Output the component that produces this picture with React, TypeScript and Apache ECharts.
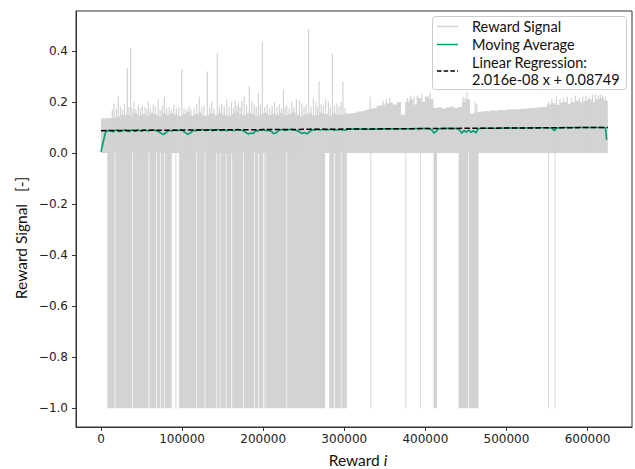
import React, { useEffect, useRef } from "react";
import * as echarts from "echarts";

// ---------- data ----------
const xTicks = [0, 100000, 200000, 300000, 400000, 500000, 600000];
const yTicks = [-1.0, -0.8, -0.6, -0.4, -0.2, 0.0, 0.2, 0.4];

// width of one step of the dense positive reward band (reward index units)
const bandStep = 5000;
// top of the dense positive reward band, one value per step starting at i = 0
const signalBandTop = [
  0.135, 0.137, 0.138, 0.14, 0.143, 0.15,
  0.15, 0.145, 0.155, 0.148, 0.152, 0.145, 0.158, 0.15, 0.144, 0.155,
  0.148, 0.156, 0.15, 0.145, 0.153, 0.16, 0.147, 0.152, 0.158, 0.146,
  0.151, 0.155, 0.148, 0.157, 0.15, 0.145, 0.154, 0.16, 0.15, 0.147,
  0.156, 0.153, 0.145, 0.15, 0.158, 0.148, 0.154, 0.15, 0.157, 0.147,
  0.153, 0.16, 0.15, 0.144, 0.152, 0.157, 0.148, 0.15, 0.158, 0.153,
  0.146, 0.155, 0.15, 0.152,
  0.155, 0.157, 0.158, 0.162, 0.164, 0.168,
  0.172, 0.176, 0.184, 0.188, 0.194, 0.198,
  0.19, 0.2, 0.15,
  0.2, 0.21, 0.19, 0.215, 0.2, 0.22, 0.21,
  0.176, 0.179, 0.174, 0.178, 0.181, 0.176, 0.18,
  0.2, 0.21,
  0.155, 0.16,
  0.162, 0.164, 0.163, 0.166, 0.165, 0.168, 0.167, 0.17, 0.171, 0.17,
  0.173, 0.174, 0.176, 0.175, 0.178, 0.18, 0.181,
  0.19, 0.195, 0.188, 0.197, 0.2, 0.193, 0.2, 0.205, 0.198, 0.205,
  0.21, 0.2, 0.21, 0.215, 0.205,
];

// isolated high rewards above the band: [i, reward]
const signalSpikes: [number, number][] = [
  [14000, 0.17], [16000, 0.195], [19000, 0.175], [21300, 0.223], [24000, 0.18],
  [26500, 0.17], [29000, 0.19], [32500, 0.332], [34500, 0.18], [36600, 0.41],
  [38500, 0.175], [40700, 0.2], [43000, 0.17], [46000, 0.19], [48500, 0.175],
  [51000, 0.185], [54300, 0.18], [56500, 0.17], [58400, 0.2], [61000, 0.175],
  [64500, 0.19], [67000, 0.18], [70700, 0.21], [73000, 0.17], [75500, 0.185],
  [78100, 0.22], [81000, 0.175], [84000, 0.18], [87000, 0.17], [90000, 0.19],
  [93000, 0.175], [96000, 0.18], [99600, 0.328], [102500, 0.175], [105800, 0.17],
  [108500, 0.18], [111000, 0.17], [114800, 0.175], [118000, 0.19], [121300, 0.22],
  [124000, 0.18], [127000, 0.185], [131200, 0.319], [134000, 0.18], [136600, 0.2],
  [139500, 0.175], [143500, 0.393], [146000, 0.18], [148900, 0.19], [152000, 0.185],
  [155100, 0.21], [158000, 0.18], [161000, 0.2], [163500, 0.175], [165400, 0.205],
  [167500, 0.185], [169400, 0.2], [171500, 0.18], [173600, 0.205], [176500, 0.22],
  [179500, 0.185], [183000, 0.262], [186000, 0.205], [189000, 0.19], [191500, 0.18],
  [194100, 0.235], [196500, 0.19], [199000, 0.436], [202000, 0.18], [205000, 0.19],
  [208000, 0.175], [211000, 0.185], [214000, 0.2], [217000, 0.18], [220000, 0.19],
  [222500, 0.175], [225000, 0.247], [227000, 0.18], [229200, 0.186], [232000, 0.175],
  [235300, 0.2], [238000, 0.18], [241000, 0.21], [244700, 0.206], [247700, 0.195],
  [250500, 0.18], [253000, 0.19], [256000, 0.485], [259000, 0.18], [262000, 0.213],
  [265000, 0.2], [267000, 0.18], [269000, 0.28], [271500, 0.19], [274300, 0.186],
  [277000, 0.21], [280500, 0.2], [283000, 0.18], [285400, 0.388], [288000, 0.185],
  [290900, 0.195], [293500, 0.18], [296000, 0.2], [298300, 0.28], [301000, 0.175],
  [332000, 0.22], [348000, 0.205], [352000, 0.21], [356000, 0.215], [378000, 0.215],
  [382000, 0.225], [386000, 0.22], [390000, 0.225], [395700, 0.23], [400000, 0.22],
  [403000, 0.225], [406000, 0.236], [446500, 0.22], [449000, 0.215], [451300, 0.24],
  [461500, 0.2], [463500, 0.19], [552000, 0.2], [556000, 0.21], [561500, 0.22],
  [566000, 0.21], [570000, 0.215], [575000, 0.22], [580000, 0.215], [585000, 0.225],
  [590000, 0.215], [594000, 0.22], [598000, 0.225], [602000, 0.22], [606000, 0.23],
  [609600, 0.23], [613000, 0.225], [615800, 0.23], [619000, 0.225], [622000, 0.22],
];

// stretches of reward index where the reward repeatedly drops to -1: [from, to]
const signalDrops: [number, number][] = [
  [7800, 16900], [17700, 38700], [39500, 58800], [59700, 68300], [69100, 73300],
  [74100, 77700], [78500, 87300], [91800, 92700], [96300, 117700], [118500, 127900],
  [128700, 142400], [143200, 146400], [147200, 153900], [154700, 160900], [161700, 175200],
  [176000, 188800], [189600, 193700], [194500, 199900], [200700, 202000], [202800, 228800],
  [229600, 276400], [281400, 287500], [288300, 295800], [296600, 303200], [332200, 333000],
  [375400, 376200], [393200, 394000], [410000, 414300], [440900, 452800], [453600, 465600],
  [551200, 552000], [559200, 560000],
];

const movingAverage: [number, number][] = [
  [0, 0.005], [6000, 0.087], [8000, 0.084], [10000, 0.089], [12500, 0.086], [15000, 0.083],
  [17500, 0.088], [20000, 0.09], [22500, 0.084], [25000, 0.085], [27500, 0.089],
  [30000, 0.09], [32500, 0.086], [35000, 0.084], [37500, 0.09], [40000, 0.089], [42500, 0.085],
  [45000, 0.091], [47500, 0.088], [50000, 0.086], [52500, 0.09], [55000, 0.09], [57500, 0.086],
  [60000, 0.088], [62500, 0.09], [65000, 0.091], [67500, 0.087], [70000, 0.086], [74000, 0.078],
  [77000, 0.072], [80000, 0.08], [84000, 0.089], [87000, 0.086], [90000, 0.091], [92500, 0.088],
  [95000, 0.088], [97500, 0.091], [100000, 0.09], [104000, 0.08], [107000, 0.073],
  [110000, 0.078], [114000, 0.089], [117000, 0.087], [120000, 0.091], [122500, 0.089], [125000, 0.092],
  [127500, 0.089], [130000, 0.088], [132500, 0.091], [135000, 0.091], [137500, 0.087],
  [140000, 0.09], [142500, 0.091], [145000, 0.092], [147500, 0.088], [150000, 0.09], [152500, 0.091],
  [155000, 0.087], [157500, 0.09], [160000, 0.091], [162500, 0.087], [165000, 0.089], [167500, 0.092],
  [170000, 0.092], [172500, 0.089], [175000, 0.088], [179000, 0.08], [182000, 0.074], [185000, 0.078],
  [188000, 0.076], [191000, 0.088], [193000, 0.085], [195000, 0.091], [197500, 0.089], [200000, 0.092],
  [202500, 0.088], [205000, 0.089], [210000, 0.085], [213000, 0.076],
  [216000, 0.079], [219000, 0.088], [221500, 0.091], [224000, 0.092], [227000, 0.088], [230000, 0.09],
  [232500, 0.092], [235000, 0.093], [237500, 0.09], [240000, 0.089],
  [245000, 0.082], [248000, 0.076], [251000, 0.08], [254000, 0.075], [257000, 0.083], [261000, 0.091],
  [263500, 0.089], [266000, 0.093], [270000, 0.09], [275000, 0.093], [277500, 0.09], [280000, 0.091],
  [285000, 0.093], [287500, 0.089], [290000, 0.09],
  [295000, 0.092], [300000, 0.089], [305000, 0.093], [310000, 0.094], [320000, 0.094], [330000, 0.093],
  [340000, 0.094], [350000, 0.095], [360000, 0.094], [370000, 0.095], [380000, 0.095], [390000, 0.096],
  [400000, 0.096], [405000, 0.095], [408000, 0.09], [410500, 0.078], [413000, 0.083], [416000, 0.095],
  [420000, 0.096], [430000, 0.097], [440000, 0.096], [443000, 0.086], [445000, 0.077], [447500, 0.088],
  [450500, 0.082], [453500, 0.09], [456500, 0.081], [459500, 0.087], [462500, 0.079], [465000, 0.095],
  [470000, 0.097], [480000, 0.097], [490000, 0.097], [500000, 0.098], [510000, 0.098], [520000, 0.098],
  [530000, 0.099], [540000, 0.099], [550000, 0.099], [556000, 0.098], [559000, 0.087], [562000, 0.098],
  [570000, 0.1], [580000, 0.1], [590000, 0.1], [600000, 0.1], [610000, 0.1], [620000, 0.1],
  [622000, 0.099], [623500, 0.052],
];

const regressionLine: [number, number][] = [[0, 0.08749], [625000, 0.10009]];
const regressionTitle = "Linear Regression:";
const regressionLabel = "2.016e-08 x + 0.08749";

// ---------- chart ----------
const GRAY = "#d3d3d3";
const GREEN = "#009e73";
const AXIS = "#333333";
const TICK_FONT = "DejaVu Sans";
const TITLE_FONT = "Lato";
const LEGEND_FONT = "Lato";

function txt(text: string, x: number, y: number, size: number, family: string, extra: any = {}) {
  return {
    type: "text",
    z: 101,
    x,
    y,
    ...(extra.rotation !== undefined ? { rotation: extra.rotation } : {}),
    style: {
      text,
      font: `${size}px "${family}"`,
      fontSize: size,
      fontFamily: family,
      fill: "#111",
      align: extra.align || "left",
      verticalAlign: "middle",
      ...(extra.rich ? { rich: extra.rich } : {}),
    },
  };
}

export default function App() {
  const ref = useRef<HTMLDivElement>(null);

  useEffect(() => {
    if (!ref.current) return;
    const chart = echarts.init(ref.current, null, { renderer: "svg" });

    const bandData: [number, number][] = signalBandTop.map((v, i) => [i * bandStep, v]);
    bandData.push([signalBandTop.length * bandStep, signalBandTop[signalBandTop.length - 1]]);

    const option: any = {
      animation: false,
      backgroundColor: "#ffffff",
      grid: {
        left: 76,
        right: 3,
        top: 11,
        bottom: 42,
        show: true,
        borderColor: AXIS,
        borderWidth: 1,
        backgroundColor: "transparent",
      },
      xAxis: {
        type: "value",
        min: -30800,
        max: 654800,
        axisLine: { show: true, onZero: false, lineStyle: { color: AXIS, width: 1 } },
        axisTick: { show: true, customValues: xTicks, length: 4, lineStyle: { color: AXIS } },
        axisLabel: {
          customValues: xTicks,
          fontFamily: TICK_FONT,
          fontSize: 12,
          color: "#222",
          margin: 6,
          formatter: (v: number) => String(v),
        },
        splitLine: { show: false },
      },
      yAxis: {
        type: "value",
        min: -1.073,
        max: 0.556,
        axisLine: { show: true, onZero: false, lineStyle: { color: AXIS, width: 1 } },
        axisTick: { show: true, customValues: yTicks, length: 4, lineStyle: { color: AXIS } },
        axisLabel: {
          customValues: yTicks,
          fontFamily: TICK_FONT,
          fontSize: 12,
          color: "#222",
          margin: 8,
          formatter: (v: number) => {
            const s = (Math.abs(v) < 1e-9 ? 0 : v).toFixed(1);
            return s.replace("-", "\u2212");
          },
        },
        splitLine: { show: false },
      },
      series: [
        {
          name: "Reward Signal",
          type: "line",
          step: "end",
          data: bandData,
          symbol: "none",
          lineStyle: { width: 0, color: GRAY },
          areaStyle: { color: GRAY, opacity: 1, origin: 0 },
          z: 1,
          silent: true,
        },
        {
          name: "Reward Signal drops",
          type: "custom",
          data: signalDrops.map((d) => [d[0], d[1], -1]),
          encode: { x: [0, 1], y: 2 },
          renderItem: (params: any, api: any) => {
            const p0 = api.coord([api.value(0), 0]);
            const p1 = api.coord([api.value(1), api.value(2)]);
            const w = Math.max(p1[0] - p0[0], 0.9);
            return {
              type: "rect",
              shape: { x: p0[0], y: p0[1], width: w, height: p1[1] - p0[1] },
              style: { fill: GRAY },
            };
          },
          z: 1,
          silent: true,
        },
        {
          name: "Reward Signal spikes",
          type: "custom",
          data: signalSpikes,
          encode: { x: 0, y: 1 },
          renderItem: (params: any, api: any) => {
            const p0 = api.coord([api.value(0), 0]);
            const p1 = api.coord([api.value(0), api.value(1)]);
            return {
              type: "line",
              shape: { x1: p0[0], y1: p0[1], x2: p1[0], y2: p1[1] },
              style: { stroke: GRAY, lineWidth: 1.2 },
            };
          },
          z: 1,
          silent: true,
        },
        {
          name: "Moving Average",
          type: "line",
          data: movingAverage,
          symbol: "none",
          lineStyle: { color: GREEN, width: 1.6 },
          z: 3,
          silent: true,
        },
        {
          name: "Linear Regression",
          type: "line",
          data: regressionLine,
          symbol: "none",
          lineStyle: { color: "#000000", width: 1.5, type: [5.5, 2.4] },
          z: 4,
          silent: true,
        },
      ],
      graphic: [
        {
          type: "rect",
          z: 100,
          shape: { x: 432.5, y: 16.5, width: 194, height: 73, r: 3 },
          style: { fill: "rgba(255,255,255,0.8)", stroke: "#cccccc", lineWidth: 1 },
        },
        {
          type: "line",
          z: 101,
          shape: { x1: 437, y1: 26.5, x2: 458, y2: 26.5 },
          style: { stroke: GRAY, lineWidth: 1.5 },
        },
        {
          type: "line",
          z: 101,
          shape: { x1: 437, y1: 44.5, x2: 458, y2: 44.5 },
          style: { stroke: GREEN, lineWidth: 1.5 },
        },
        {
          type: "line",
          z: 101,
          shape: { x1: 437, y1: 71, x2: 458, y2: 71 },
          style: { stroke: "#000", lineWidth: 1.5, lineDash: [4.5, 2.2] },
        },
        txt("Reward Signal", 472, 26.5, 14.5, LEGEND_FONT),
        txt("Moving Average", 472, 44.5, 14.5, LEGEND_FONT),
        txt(regressionTitle, 472, 62, 14.5, LEGEND_FONT),
        txt(regressionLabel, 472, 79.6, 14.5, LEGEND_FONT),
        txt("Reward Signal   [-]", 21, 238, 15.5, TITLE_FONT, { rotation: Math.PI / 2, align: "center" }),
        txt("Reward {i|i}", 358, 460, 15.5, TITLE_FONT, {
          align: "center",
          rich: { i: { fontStyle: "italic", fontFamily: TITLE_FONT, fontSize: 15.5, fill: "#111" } },
        }),
      ],
    };

    chart.setOption(option);
    return () => chart.dispose();
  }, []);

  return (
    <div
      ref={ref}
      style={{ position: "fixed", left: 0, top: 0, width: 635, height: 469, background: "#fff" }}
    />
  );
}
